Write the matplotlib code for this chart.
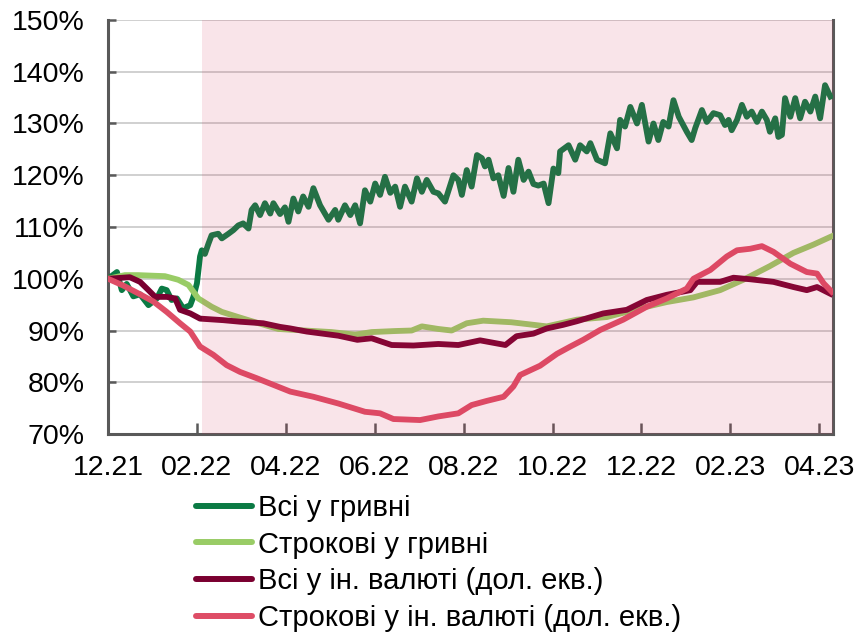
import matplotlib
matplotlib.use("Agg")
import matplotlib.pyplot as plt
import numpy as np

plt.rcParams['font.family'] = ['Liberation Sans', 'DejaVu Sans']

# time axis: months since 12.21
tick_pos = [0, 2, 4, 6, 8, 10, 12, 14, 16]
tick_labels = ["12.21", "02.22", "04.22", "06.22", "08.22", "10.22", "12.22", "02.23", "04.23"]
war_start = 2.11
x_end = 16.31

# Всі у гривні
t_all_uah = [0.00, 0.20, 0.31, 0.42, 0.57, 0.72, 0.91, 1.10, 1.21, 1.32, 1.43, 1.55, 1.69, 1.85,
             1.92, 2.00, 2.07, 2.11, 2.18, 2.26, 2.33, 2.48, 2.56, 2.71, 2.82, 2.93, 3.04, 3.16,
             3.23, 3.31, 3.42, 3.53, 3.65, 3.72, 3.87, 3.98, 4.06, 4.17, 4.28, 4.39, 4.51, 4.62,
             4.77, 4.96, 5.11, 5.18, 5.33, 5.45, 5.56, 5.67, 5.78, 5.90, 6.01, 6.12, 6.23, 6.35,
             6.46, 6.57, 6.68, 6.83, 6.95, 7.06, 7.17, 7.32, 7.43, 7.58, 7.77, 7.88, 7.96, 8.07,
             8.18, 8.30, 8.41, 8.48, 8.56, 8.67, 8.78, 8.90, 9.01, 9.12, 9.23, 9.35, 9.46, 9.57,
             9.68, 9.80, 9.91, 10.02, 10.13, 10.17, 10.36, 10.51, 10.62, 10.77, 10.85, 11.00,
             11.18, 11.30, 11.45, 11.52, 11.63, 11.75, 11.90, 12.01, 12.16, 12.27, 12.38, 12.49,
             12.61, 12.72, 12.84, 13.02, 13.13, 13.21, 13.36, 13.47, 13.62, 13.77, 13.88, 13.96,
             14.03, 14.15, 14.26, 14.37, 14.48, 14.60, 14.71, 14.82, 14.89, 15.01, 15.08, 15.16,
             15.23, 15.35, 15.46, 15.57, 15.68, 15.80, 15.91, 16.02, 16.13, 16.25]
all_uah = [100.0, 101.3, 97.8, 99.0, 96.6, 97.0, 94.9, 96.2, 98.1, 97.8, 95.9, 96.2, 94.3, 94.9,
           96.5, 99.1, 104.3, 105.5, 104.8, 106.8, 108.4, 108.7, 107.8, 108.7, 109.4, 110.3, 110.7, 109.7,
           113.3, 114.2, 112.3, 114.6, 112.6, 114.6, 112.5, 113.8, 111.0, 115.5, 113.0, 115.9, 113.9, 117.5,
           114.2, 111.4, 113.3, 111.4, 114.2, 112.3, 114.2, 110.7, 117.1, 114.9, 118.4, 116.2, 119.7, 116.6,
           117.8, 113.9, 117.8, 114.9, 119.4, 116.8, 119.1, 116.8, 116.5, 114.9, 120.0, 119.1, 116.2, 121.0,
           117.8, 123.9, 123.3, 121.7, 123.0, 119.4, 120.0, 116.0, 121.4, 116.8, 123.0, 119.1, 120.7, 118.3,
           118.0, 118.4, 114.6, 121.3, 120.4, 124.6, 125.8, 123.0, 125.8, 124.6, 126.2, 123.0,
           122.3, 128.1, 125.2, 130.7, 129.4, 133.2, 130.0, 133.6, 126.5, 130.0, 126.8, 130.3,
           129.4, 134.5, 131.3, 128.4, 126.8, 129.1, 132.6, 130.3, 132.0, 131.6, 129.7, 130.7,
           128.7, 130.7, 133.6, 131.3, 132.3, 130.3, 132.3, 130.7, 128.4, 131.0, 127.4, 127.8,
           134.9, 131.3, 134.9, 131.0, 134.2, 132.3, 135.2, 131.0, 137.4, 135.2]

# Строкові у гривні
t_term_uah = [0.00, 0.38, 0.68, 1.28, 1.58, 1.81, 2.03, 2.33, 2.56, 2.93, 3.31, 3.83, 4.43, 5.03,
              5.56, 5.93, 6.46, 6.83, 7.06, 7.43, 7.73, 8.07, 8.44, 9.07, 9.87, 10.55, 11.22,
              11.97, 12.57, 13.17, 13.77, 14.29, 14.88, 15.42, 15.87, 16.28]
term_uah = [100.0, 100.7, 100.7, 100.5, 99.8, 98.8, 96.2, 94.6, 93.6, 92.6, 91.6, 90.3, 90.0, 89.7,
            89.2, 89.7, 89.9, 90.0, 90.8, 90.3, 90.0, 91.4, 91.9, 91.6, 90.8, 92.1, 92.6,
            94.3, 95.5, 96.4, 97.8, 99.8, 102.4, 105.0, 106.6, 108.2]

# Всі у ін. валюті (дол. екв.)
t_all_fx = [0.00, 0.49, 0.72, 0.91, 1.06, 1.32, 1.51, 1.62, 1.85, 2.07, 2.59, 2.97, 3.49, 3.87,
            4.10, 4.47, 5.18, 5.61, 5.93, 6.38, 6.87, 7.43, 7.88, 8.37, 8.94, 9.19, 9.57, 9.87,
            10.24, 10.55, 11.14, 11.67, 12.12, 12.57, 13.10, 13.25, 13.77, 14.07, 14.45, 14.97,
            15.42, 15.72, 15.95, 16.25]
all_fx = [100.0, 100.3, 99.4, 97.8, 96.5, 96.5, 96.2, 94.0, 93.3, 92.3, 92.0, 91.7, 91.4, 90.7,
          90.4, 89.8, 89.0, 88.2, 88.5, 87.2, 87.1, 87.4, 87.2, 88.1, 87.2, 88.9, 89.4, 90.4,
          91.1, 91.8, 93.3, 94.0, 95.9, 96.9, 97.8, 99.4, 99.4, 100.2, 99.9, 99.4,
          98.4, 97.8, 98.4, 97.1]

# Строкові у ін. валюті (дол. екв.)
t_term_fx = [0.00, 0.34, 0.72, 1.02, 1.32, 1.62, 1.85, 2.07, 2.37, 2.67, 2.97, 3.34, 3.72, 4.10,
             4.62, 5.18, 5.78, 6.12, 6.42, 7.02, 7.43, 7.88, 8.18, 8.52, 8.90, 9.12, 9.27, 9.72,
             10.10, 10.40, 10.69, 11.07, 11.59, 12.12, 12.57, 13.02, 13.17, 13.55, 13.92, 14.15,
             14.45, 14.71, 14.97, 15.35, 15.72, 15.95, 16.10, 16.28]
term_fx = [100.0, 98.7, 97.0, 95.6, 93.6, 91.4, 89.8, 86.9, 85.3, 83.3, 82.0, 80.8, 79.5, 78.2,
           77.2, 75.9, 74.3, 74.0, 72.9, 72.7, 73.4, 74.0, 75.6, 76.4, 77.2, 79.2, 81.4, 83.2,
           85.5, 86.9, 88.2, 90.1, 92.1, 94.6, 96.2, 98.1, 100.0, 101.7, 104.3, 105.5,
           105.8, 106.3, 105.2, 102.9, 101.3, 101.0, 99.1, 97.5]

labels = ["Всі у гривні", "Строкові у гривні", "Всі у ін. валюті (дол. екв.)",
          "Строкові у ін. валюті (дол. екв.)"]
colors = ['#0b7a44', '#99cc66', '#7a0030', '#de4d66']

fig = plt.figure(figsize=(8.58, 6.38), dpi=100)
ax = fig.add_axes([0.1259, 0.3197, 0.845, 0.649])

lw = 4.2
ax.plot(t_all_uah, all_uah, color=colors[0], lw=lw, label=labels[0], zorder=3)
ax.plot(t_term_uah, term_uah, color=colors[1], lw=lw, label=labels[1], zorder=3)
ax.plot(t_all_fx, all_fx, color=colors[2], lw=lw, label=labels[2], zorder=3)
ax.plot(t_term_fx, term_fx, color=colors[3], lw=lw, label=labels[3], zorder=3)

# war period shading drawn over the lines
ax.axvspan(war_start, x_end, color='#d8345a', alpha=0.13, lw=0, zorder=4)

ax.set_xlim(0, x_end)
ax.set_ylim(70, 150)
ax.set_yticks(np.arange(70, 151, 10))
ax.set_yticklabels([f"{v}%" for v in range(70, 151, 10)])
ax.set_xticks(tick_pos)
ax.set_xticklabels(tick_labels)

ax.grid(axis='y', color='#d0d0d0', lw=1.4, zorder=1)
ax.set_axisbelow(True)
ax.spines['top'].set_visible(False)
for s in ['left', 'bottom', 'right']:
    ax.spines[s].set_color('#595959')
    ax.spines[s].set_linewidth(2.2)
ax.tick_params(axis='both', direction='in', colors='#595959', labelcolor='black',
               labelsize=20.5, width=1.8)
ax.tick_params(axis='x', length=8, pad=15)
ax.tick_params(axis='y', length=6, pad=17)
ax.tick_params(axis='y', which='both', right=False)

leg = fig.legend(loc='upper left', bbox_to_anchor=(0.229, 0.226), frameon=False,
                 fontsize=21, handlelength=1.9, handletextpad=0.2, labelspacing=0.3,
                 borderaxespad=0, borderpad=0)
for line in leg.get_lines():
    line.set_linewidth(4.3)
    line.set_solid_capstyle('round')

fig.savefig("out.png", dpi=100)
